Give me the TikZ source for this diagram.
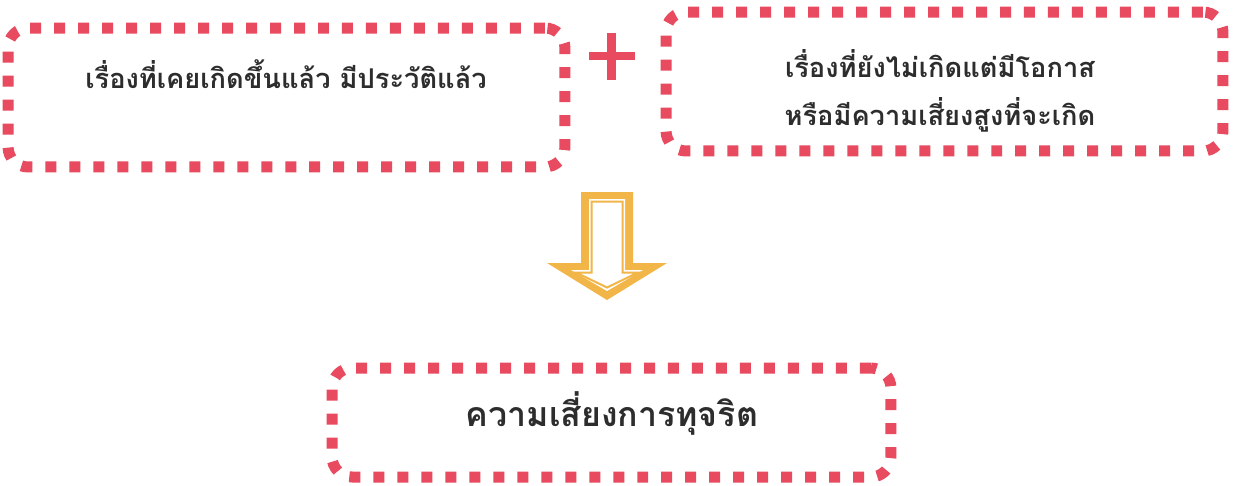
\documentclass[tikz,border=0pt]{standalone}
\usepackage{fontspec}
\newfontfamily\thaifont[Script=Thai]{Loma}
\usepackage{tikz}
\usetikzlibrary{positioning}

\definecolor{dotred}{RGB}{232,74,95}
\definecolor{arroworange}{RGB}{241,181,72}
\definecolor{textgray}{RGB}{45,45,45}

% block arrow: shaft half width, top, shoulder, head half width, tip (px)
\newcommand{\blockarrow}[5]{({607-#1},#2) -- ({607+#1},#2) -- ({607+#1},#3) -- ({607+#4},#3)
  -- (607,#5) -- ({607-#4},#3) -- ({607-#1},#3) -- cycle}

\begin{document}
\begin{tikzpicture}[x=0.02cm,y=-0.02cm,
    dotbox/.style={draw=dotred,line width=0.22cm,dash pattern=on 0.22cm off 0.26cm,
                   rounded corners=0.4cm,inner sep=0pt},
    boxtext/.style={font=\thaifont\bfseries\fontsize{15.5}{27}\selectfont,text=textgray,align=center}]
  \useasboundingbox[fill=white] (0,0) rectangle (1234,485);

  % top boxes
  \node[dotbox,minimum width=11.14cm,minimum height=2.78cm] (past) at (286.5,97.5) {};
  \node[dotbox,minimum width=11.14cm,minimum height=2.78cm] (future) at (944.5,81.5) {};
  \node[boxtext] (pasttext) at (286,74) {เรื่องที่เคยเกิดขึ้นแล้ว มีประวัติแล้ว};
  \node[boxtext] (futuretext) at (940,91) {เรื่องที่ยังไม่เกิดแต่มีโอกาส\\หรือมีความเสี่ยงสูงที่จะเกิด};

  % plus
  \coordinate (plus) at (611.5,56);
  \draw[dotred,line width=0.17cm] ([xshift=-0.46cm]plus) -- ([xshift=0.46cm]plus);
  \draw[dotred,line width=0.17cm] ([yshift=0.47cm]plus) -- ([yshift=-0.47cm]plus);

  % arrow
  \fill[arroworange] \blockarrow{26}{192}{263}{60}{300};
  \fill[white] \blockarrow{18}{199}{270}{36}{291};
  \draw[arroworange,line width=0.04cm] \blockarrow{15.5}{201.5}{272.5}{31}{287.5};

  % bottom box
  \node[dotbox,minimum width=11.18cm,minimum height=2.18cm] (fraud) at (611.5,422.5) {};
  \node[boxtext,font=\thaifont\bfseries\fontsize{19.3}{27}\selectfont] (fraudtext) at (612,413) {ความเสี่ยงการทุจริต};
\end{tikzpicture}
\end{document}
